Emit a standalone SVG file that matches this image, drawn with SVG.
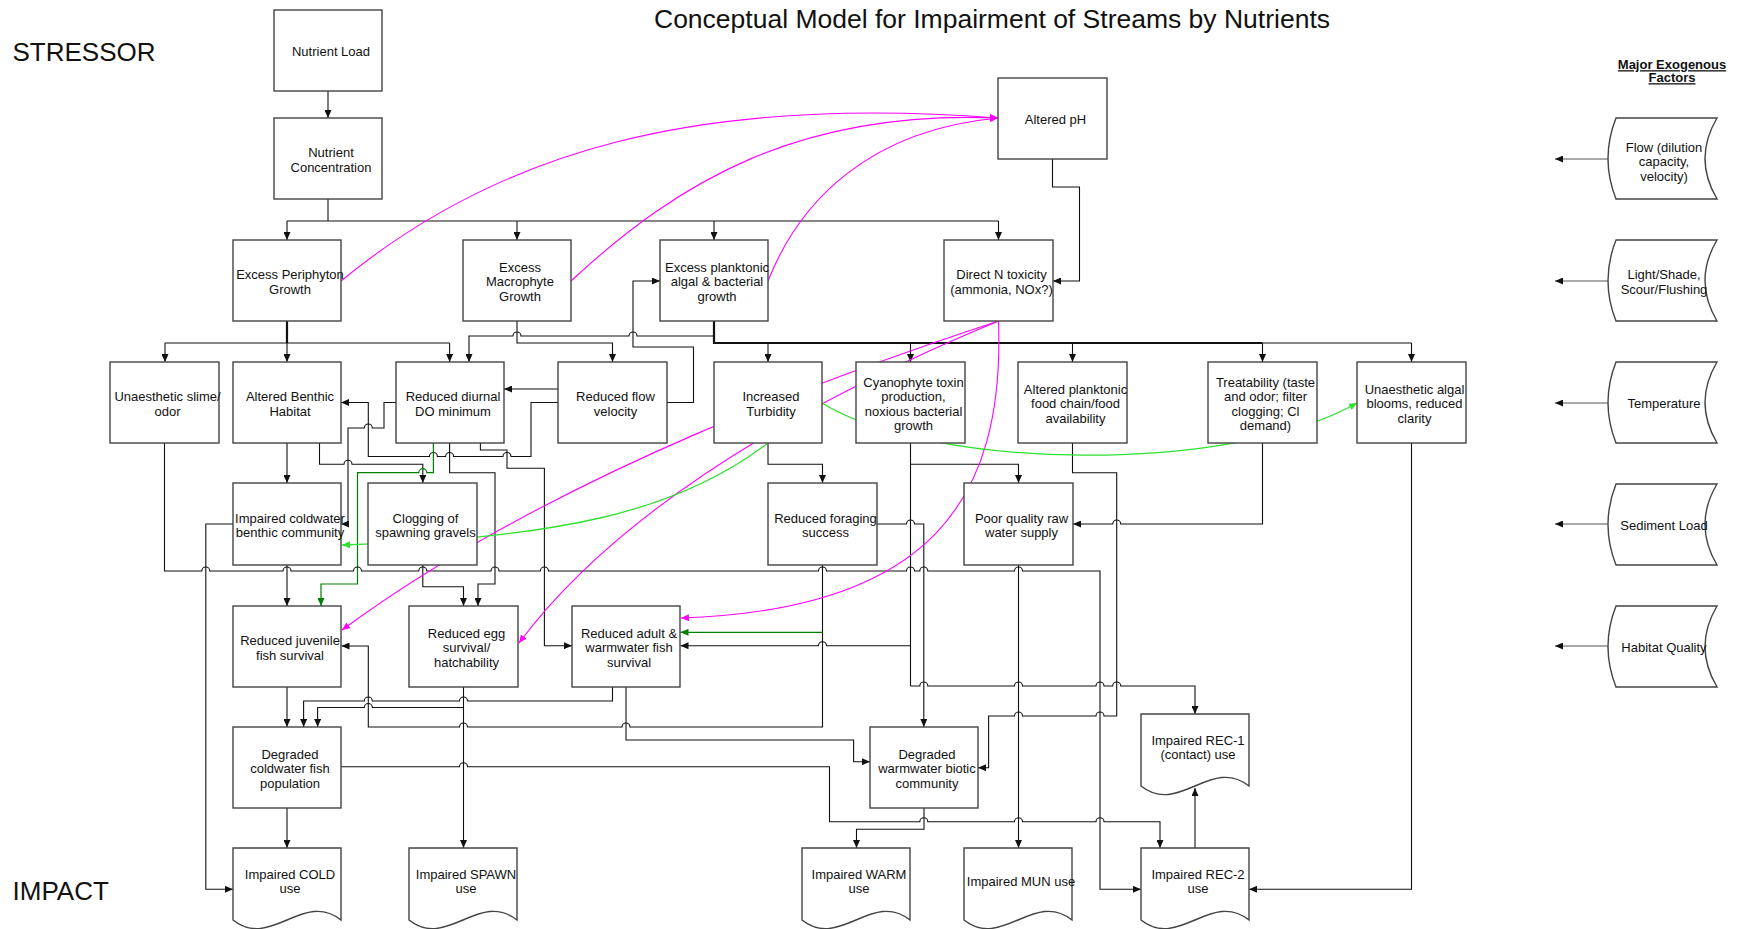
<svg xmlns="http://www.w3.org/2000/svg" width="1740" height="929" viewBox="0 0 1740 929">
<defs>
<style>
.box{fill:#fff;stroke:#444;stroke-width:1.4}
.t{font-family:"Liberation Sans",Arial,sans-serif;font-size:13px;fill:#111;text-anchor:middle;transform:translateY(1.2px)}
.big{font-family:"Liberation Sans",Arial,sans-serif;font-size:26px;fill:#111}
.c{fill:none;stroke:#111;stroke-width:1.1}
.thick{fill:none;stroke:#111;stroke-width:2.2}
.m{fill:none;stroke:#f0f;stroke-width:1.1}
.g{fill:none;stroke:#2fe02f;stroke-width:1.3}
.dg{fill:none;stroke:#008000;stroke-width:1.2}
.ex{fill:none;stroke:#555;stroke-width:1.2}
</style>
<marker id="ab" viewBox="0 0 8 7" refX="8" refY="3.5" markerWidth="8" markerHeight="7" markerUnits="userSpaceOnUse" orient="auto"><path d="M0,0L8,3.5L0,7z" fill="#111"/></marker>
<marker id="am" viewBox="0 0 8 7" refX="8" refY="3.5" markerWidth="8" markerHeight="7" markerUnits="userSpaceOnUse" orient="auto"><path d="M0,0L8,3.5L0,7z" fill="#f0f"/></marker>
<marker id="ag" viewBox="0 0 8 7" refX="8" refY="3.5" markerWidth="8" markerHeight="7" markerUnits="userSpaceOnUse" orient="auto"><path d="M0,0L8,3.5L0,7z" fill="#2fe02f"/></marker>
<marker id="adg" viewBox="0 0 8 7" refX="8" refY="3.5" markerWidth="8" markerHeight="7" markerUnits="userSpaceOnUse" orient="auto"><path d="M0,0L8,3.5L0,7z" fill="#008000"/></marker>
</defs>
<rect width="1740" height="929" fill="#fff"/>

<text class="big" x="12.5" y="61">STRESSOR</text>
<text class="big" x="12.5" y="900">IMPACT</text>
<text class="big" x="654" y="28" font-size="26.5" textLength="676" lengthAdjust="spacingAndGlyphs">Conceptual Model for Impairment of Streams by Nutrients</text>
<text class="t" x="1672" y="68" font-size="12.5" font-weight="bold" text-decoration="underline">Major Exogenous</text>
<text class="t" x="1672" y="81" font-size="12.5" font-weight="bold" text-decoration="underline">Factors</text>

<g id="connectors">
<path class="c" d="M328,91V118" marker-end="url(#ab)"/>
<path class="c" d="M328,199V221M287,221H998.5"/>
<path class="c" d="M287,221V240" marker-end="url(#ab)"/>
<path class="c" d="M517,221V240" marker-end="url(#ab)"/>
<path class="c" d="M714,221V240" marker-end="url(#ab)"/>
<path class="c" d="M998.5,221V240" marker-end="url(#ab)"/>
<path class="c" d="M1052.5,159V187H1079.5V281H1053" marker-end="url(#ab)"/>

<path class="thick" d="M287,321V343"/>
<path class="c" d="M165,343H449.6"/>
<path class="c" d="M165,343V362" marker-end="url(#ab)"/>
<path class="c" d="M287,343V362" marker-end="url(#ab)"/>
<path class="c" d="M449.6,343V362" marker-end="url(#ab)"/>

<path class="thick" d="M714,321V343H1262.5"/>
<path class="c" d="M1262.5,343H1411.5"/>
<path class="c" d="M768,343V362" marker-end="url(#ab)"/>
<path class="c" d="M910.5,343V362" marker-end="url(#ab)"/>
<path class="c" d="M1072.5,343V362" marker-end="url(#ab)"/>
<path class="c" d="M1262.5,343V362" marker-end="url(#ab)"/>
<path class="c" d="M1411.5,343V362" marker-end="url(#ab)"/>
<path class="c" d="M714,336H637a4,4 0 0 0 -8,0H521a4,4 0 0 0 -8,0H469V362" marker-end="url(#ab)"/>
<path class="c" d="M517,321V343H612.5V362" marker-end="url(#ab)"/>
<path class="c" d="M666.5,402.5H693.5V347H633V281H660" marker-end="url(#ab)"/>
<path class="c" d="M558,389H504" marker-end="url(#ab)"/>
<path class="c" d="M558,402.5H531V456.5H511a4,4 0 0 0 -8,0H453.6a4,4 0 0 0 -8,0H437.4a4,4 0 0 0 -8,0H368.3V402.5H341" marker-end="url(#ab)"/>
<path class="c" d="M396,402.5H384V428H372.3a4,4 0 0 0 -8,0H348V524H341" marker-end="url(#ab)"/>
<path class="c" d="M319.5,443V464.3H344a4,4 0 0 1 8,0H422.8V483" marker-end="url(#ab)"/>
<path class="dg" d="M433.4,443V472.7H426.8a4,4 0 0 0 -8,0H357.5V584H321V606" marker-end="url(#adg)"/>
<path class="c" d="M449.6,443V472.7H495V584H478V606" marker-end="url(#ab)"/>
<path class="c" d="M480.4,443V450H507V468.3H544.4V645.7H572" marker-end="url(#ab)"/>
<path class="c" d="M164.5,443V571H201.8a4,4 0 0 1 8,0H283a4,4 0 0 1 8,0H353.5a4,4 0 0 1 8,0H418.8a4,4 0 0 1 8,0H491a4,4 0 0 1 8,0H540.4a4,4 0 0 1 8,0H818.5a4,4 0 0 1 8,0H906.5a4,4 0 0 1 8,0H919.8a4,4 0 0 1 8,0H1014.5a4,4 0 0 1 8,0H1100V889.3H1141" marker-end="url(#ab)"/>
<path class="c" d="M287,443V483" marker-end="url(#ab)"/>
<path class="c" d="M233,524H205.8V889.3H233" marker-end="url(#ab)"/>
<path class="c" d="M287,565V606" marker-end="url(#ab)"/>
<path class="c" d="M422.8,565V586.7H463.5V606" marker-end="url(#ab)"/>
<path class="c" d="M768,443V464.3H822.5V483" marker-end="url(#ab)"/>
<path class="c" d="M910.5,443V686"/>
<path class="c" d="M910.5,464.3H1018.5V483" marker-end="url(#ab)"/>
<path class="c" d="M910.5,645.7H826.5a4,4 0 0 0 -8,0H680.5" marker-end="url(#ab)"/>
<path class="c" d="M910.5,686H919.8a4,4 0 0 1 8,0H1014.5a4,4 0 0 1 8,0H1096a4,4 0 0 1 8,0H1112.7a4,4 0 0 1 8,0H1195V714" marker-end="url(#ab)"/>
<path class="c" d="M822.5,565V727H630a4,4 0 0 0 -8,0H467.5a4,4 0 0 0 -8,0H368.3V646H341.5" marker-end="url(#ab)"/>
<path class="dg" d="M822.5,632.3H680.5" marker-end="url(#adg)"/>
<path class="c" d="M877,524H906.5a4,4 0 0 1 8,0H923.8V727" marker-end="url(#ab)"/>
<path class="c" d="M1018.5,565V848" marker-end="url(#ab)"/>
<path class="c" d="M1262.5,443V524H1120.7a4,4 0 0 0 -8,0H1073" marker-end="url(#ab)"/>
<path class="c" d="M1072.5,443V472.7H1116.7V716H1104a4,4 0 0 0 -8,0H1022.5a4,4 0 0 0 -8,0H988.6V767.7H978" marker-end="url(#ab)"/>
<path class="c" d="M1411.5,443V889.3H1249" marker-end="url(#ab)"/>
<path class="c" d="M287,687V727" marker-end="url(#ab)"/>
<path class="c" d="M612.5,687V701H467.5a4,4 0 0 0 -8,0H372.3a4,4 0 0 0 -8,0H303.6V727" marker-end="url(#ab)"/>
<path class="c" d="M463.5,687V848" marker-end="url(#ab)"/>
<path class="c" d="M463.5,707.5H372.3a4,4 0 0 0 -8,0H317.6V727" marker-end="url(#ab)"/>
<path class="c" d="M626,687V740H853.6V761.7H870" marker-end="url(#ab)"/>
<path class="c" d="M341,766.7H459.5a4,4 0 0 1 8,0H829.5V821.7H919.8a4,4 0 0 1 8,0H1014.5a4,4 0 0 1 8,0H1096a4,4 0 0 1 8,0H1160V848" marker-end="url(#ab)"/>
<path class="c" d="M287,808V848" marker-end="url(#ab)"/>
<path class="c" d="M924,808V829.3H856.5V848" marker-end="url(#ab)"/>
<path class="c" d="M1195,848V788" marker-end="url(#ab)"/>

<path class="ex" d="M1608,159H1555" marker-end="url(#ab)"/>
<path class="ex" d="M1608,281H1555" marker-end="url(#ab)"/>
<path class="ex" d="M1608,403H1555" marker-end="url(#ab)"/>
<path class="ex" d="M1608,524H1555" marker-end="url(#ab)"/>
<path class="ex" d="M1608,646H1555" marker-end="url(#ab)"/>

<path class="m" d="M341,281C500,150 700,95 998,118" marker-end="url(#am)"/>
<path class="m" d="M571,281C680,180 800,110 998,118" marker-end="url(#am)"/>
<path class="m" d="M768,281C800,200 870,130 998,118" marker-end="url(#am)"/>
<path class="m" d="M998.5,321C850,370 560,470 342,630" marker-end="url(#am)"/>
<path class="m" d="M998.5,321C880,370 640,480 519,643" marker-end="url(#am)"/>
<path class="m" d="M998.5,321C1005,500 930,610 681,618" marker-end="url(#am)"/>
<path class="g" d="M822,403C930,470 1230,475 1357,403" marker-end="url(#ag)"/>
<path class="g" d="M768,443Q700,495 600,518T342,545" marker-end="url(#ag)"/>
</g>

<g id="n-nutrient-load"><rect class="box" x="274" y="10" width="108" height="81"/><text class="t" x="331" y="55">Nutrient Load</text></g>
<g id="n-nutrient-conc"><rect class="box" x="274" y="118" width="108" height="81"/><text class="t" x="331" y="156">Nutrient</text><text class="t" x="331" y="170.5">Concentration</text></g>
<g id="n-altered-ph"><rect class="box" x="998" y="78" width="109" height="81"/><text class="t" x="1055.5" y="123">Altered pH</text></g>

<g id="n-periphyton"><rect class="box" x="233" y="240" width="108" height="81"/><text class="t" x="290" y="278">Excess Periphyton</text><text class="t" x="290" y="292.5">Growth</text></g>
<g id="n-macrophyte"><rect class="box" x="463" y="240" width="108" height="81"/><text class="t" x="520" y="270.6">Excess</text><text class="t" x="520" y="285.1">Macrophyte</text><text class="t" x="520" y="299.6">Growth</text></g>
<g id="n-planktonic"><rect class="box" x="660" y="240" width="108" height="81"/><text class="t" x="717" y="270.6">Excess planktonic</text><text class="t" x="717" y="285.1">algal &amp; bacterial</text><text class="t" x="717" y="299.6">growth</text></g>
<g id="n-direct-n"><rect class="box" x="944" y="240" width="109" height="81"/><text class="t" x="1001.5" y="278">Direct N toxicity</text><text class="t" x="1001.5" y="292.5">(ammonia, NOx?)</text></g>

<g id="n-slime"><rect class="box" x="110" y="362" width="109" height="81"/><text class="t" x="167.5" y="400">Unaesthetic slime/</text><text class="t" x="167.5" y="414.5">odor</text></g>
<g id="n-benthic"><rect class="box" x="233" y="362" width="108" height="81"/><text class="t" x="290" y="400">Altered Benthic</text><text class="t" x="290" y="414.5">Habitat</text></g>
<g id="n-do"><rect class="box" x="396" y="362" width="108" height="81"/><text class="t" x="453" y="400">Reduced diurnal</text><text class="t" x="453" y="414.5">DO minimum</text></g>
<g id="n-flow"><rect class="box" x="558" y="362" width="109" height="81"/><text class="t" x="615.5" y="400">Reduced flow</text><text class="t" x="615.5" y="414.5">velocity</text></g>
<g id="n-turbidity"><rect class="box" x="714" y="362" width="108" height="81"/><text class="t" x="771" y="400">Increased</text><text class="t" x="771" y="414.5">Turbidity</text></g>
<g id="n-cyano"><rect class="box" x="856" y="362" width="109" height="81"/><text class="t" x="913.5" y="385.4">Cyanophyte toxin</text><text class="t" x="913.5" y="399.9">production,</text><text class="t" x="913.5" y="414.4">noxious bacterial</text><text class="t" x="913.5" y="428.9">growth</text></g>
<g id="n-foodchain"><rect class="box" x="1018" y="362" width="109" height="81"/><text class="t" x="1075.5" y="392.6">Altered planktonic</text><text class="t" x="1075.5" y="407.1">food chain/food</text><text class="t" x="1075.5" y="421.6">availability</text></g>
<g id="n-treat"><rect class="box" x="1208" y="362" width="109" height="81"/><text class="t" x="1265.5" y="385.4">Treatability (taste</text><text class="t" x="1265.5" y="399.9">and odor; filter</text><text class="t" x="1265.5" y="414.4">clogging; Cl</text><text class="t" x="1265.5" y="428.9">demand)</text></g>
<g id="n-algal"><rect class="box" x="1357" y="362" width="109" height="81"/><text class="t" x="1414.5" y="392.6">Unaesthetic algal</text><text class="t" x="1414.5" y="407.1">blooms, reduced</text><text class="t" x="1414.5" y="421.6">clarity</text></g>

<g id="n-coldbenthic"><rect class="box" x="233" y="483" width="108" height="82"/><text class="t" x="290" y="521.5">Impaired coldwater</text><text class="t" x="290" y="536">benthic community</text></g>
<g id="n-clogging"><rect class="box" x="368" y="483" width="109" height="82"/><text class="t" x="425.5" y="521.5">Clogging of</text><text class="t" x="425.5" y="536">spawning gravels</text></g>
<g id="n-foraging"><rect class="box" x="768" y="483" width="109" height="82"/><text class="t" x="825.5" y="521.5">Reduced foraging</text><text class="t" x="825.5" y="536">success</text></g>
<g id="n-poorwater"><rect class="box" x="964" y="483" width="109" height="82"/><text class="t" x="1021.5" y="521.5">Poor quality raw</text><text class="t" x="1021.5" y="536">water supply</text></g>

<g id="n-juvenile"><rect class="box" x="233" y="606" width="108" height="81"/><text class="t" x="290" y="644">Reduced juvenile</text><text class="t" x="290" y="658.5">fish survival</text></g>
<g id="n-egg"><rect class="box" x="409" y="606" width="109" height="81"/><text class="t" x="466.5" y="636.6">Reduced egg</text><text class="t" x="466.5" y="651.1">survival/</text><text class="t" x="466.5" y="665.6">hatchability</text></g>
<g id="n-adult"><rect class="box" x="572" y="606" width="108" height="81"/><text class="t" x="629" y="636.6">Reduced adult &amp;</text><text class="t" x="629" y="651.1">warmwater fish</text><text class="t" x="629" y="665.6">survival</text></g>

<g id="n-degcold"><rect class="box" x="233" y="727" width="108" height="81"/><text class="t" x="290" y="757.6">Degraded</text><text class="t" x="290" y="772.1">coldwater fish</text><text class="t" x="290" y="786.6">population</text></g>
<g id="n-degwarm"><rect class="box" x="870" y="727" width="108" height="81"/><text class="t" x="927" y="757.6">Degraded</text><text class="t" x="927" y="772.1">warmwater biotic</text><text class="t" x="927" y="786.6">community</text></g>

<g id="n-rec1"><path class="box" d="M1141,714H1249V786C1211.2,756 1178.8,816 1141,786Z"/><text class="t" x="1198" y="743.5">Impaired REC-1</text><text class="t" x="1198" y="758">(contact) use</text></g>
<g id="n-cold"><path class="box" d="M233,848H341V920C303.2,890 270.8,950 233,920Z"/><text class="t" x="290" y="877.5">Impaired COLD</text><text class="t" x="290" y="892">use</text></g>
<g id="n-spawn"><path class="box" d="M409,848H517V920C479.2,890 446.8,950 409,920Z"/><text class="t" x="466" y="877.5">Impaired SPAWN</text><text class="t" x="466" y="892">use</text></g>
<g id="n-warm"><path class="box" d="M802,848H910V920C872.2,890 839.8,950 802,920Z"/><text class="t" x="859" y="877.5">Impaired WARM</text><text class="t" x="859" y="892">use</text></g>
<g id="n-mun"><path class="box" d="M964,848H1072V920C1034.2,890 1001.8,950 964,920Z"/><text class="t" x="1021" y="884.6">Impaired MUN use</text></g>
<g id="n-rec2"><path class="box" d="M1141,848H1249V920C1211.2,890 1178.8,950 1141,920Z"/><text class="t" x="1198" y="877.5">Impaired REC-2</text><text class="t" x="1198" y="892">use</text></g>

<g id="x-flow"><path class="box" d="M1616,118H1717Q1693,158.5 1717,199H1616Q1600,158.5 1616,118Z"/><text class="t" x="1664" y="150.6">Flow (dilution</text><text class="t" x="1664" y="165.1">capacity,</text><text class="t" x="1664" y="179.6">velocity)</text></g>
<g id="x-light"><path class="box" d="M1616,240H1717Q1693,280.5 1717,321H1616Q1600,280.5 1616,240Z"/><text class="t" x="1664" y="278">Light/Shade,</text><text class="t" x="1664" y="292.5">Scour/Flushing</text></g>
<g id="x-temp"><path class="box" d="M1616,362H1717Q1693,402.5 1717,443H1616Q1600,402.5 1616,362Z"/><text class="t" x="1664" y="407.1">Temperature</text></g>
<g id="x-sediment"><path class="box" d="M1616,484H1717Q1693,524.5 1717,565H1616Q1600,524.5 1616,484Z"/><text class="t" x="1664" y="529">Sediment Load</text></g>
<g id="x-habitat"><path class="box" d="M1616,606H1717Q1693,646.5 1717,687H1616Q1600,646.5 1616,606Z"/><text class="t" x="1664" y="651">Habitat Quality</text></g>
</svg>
